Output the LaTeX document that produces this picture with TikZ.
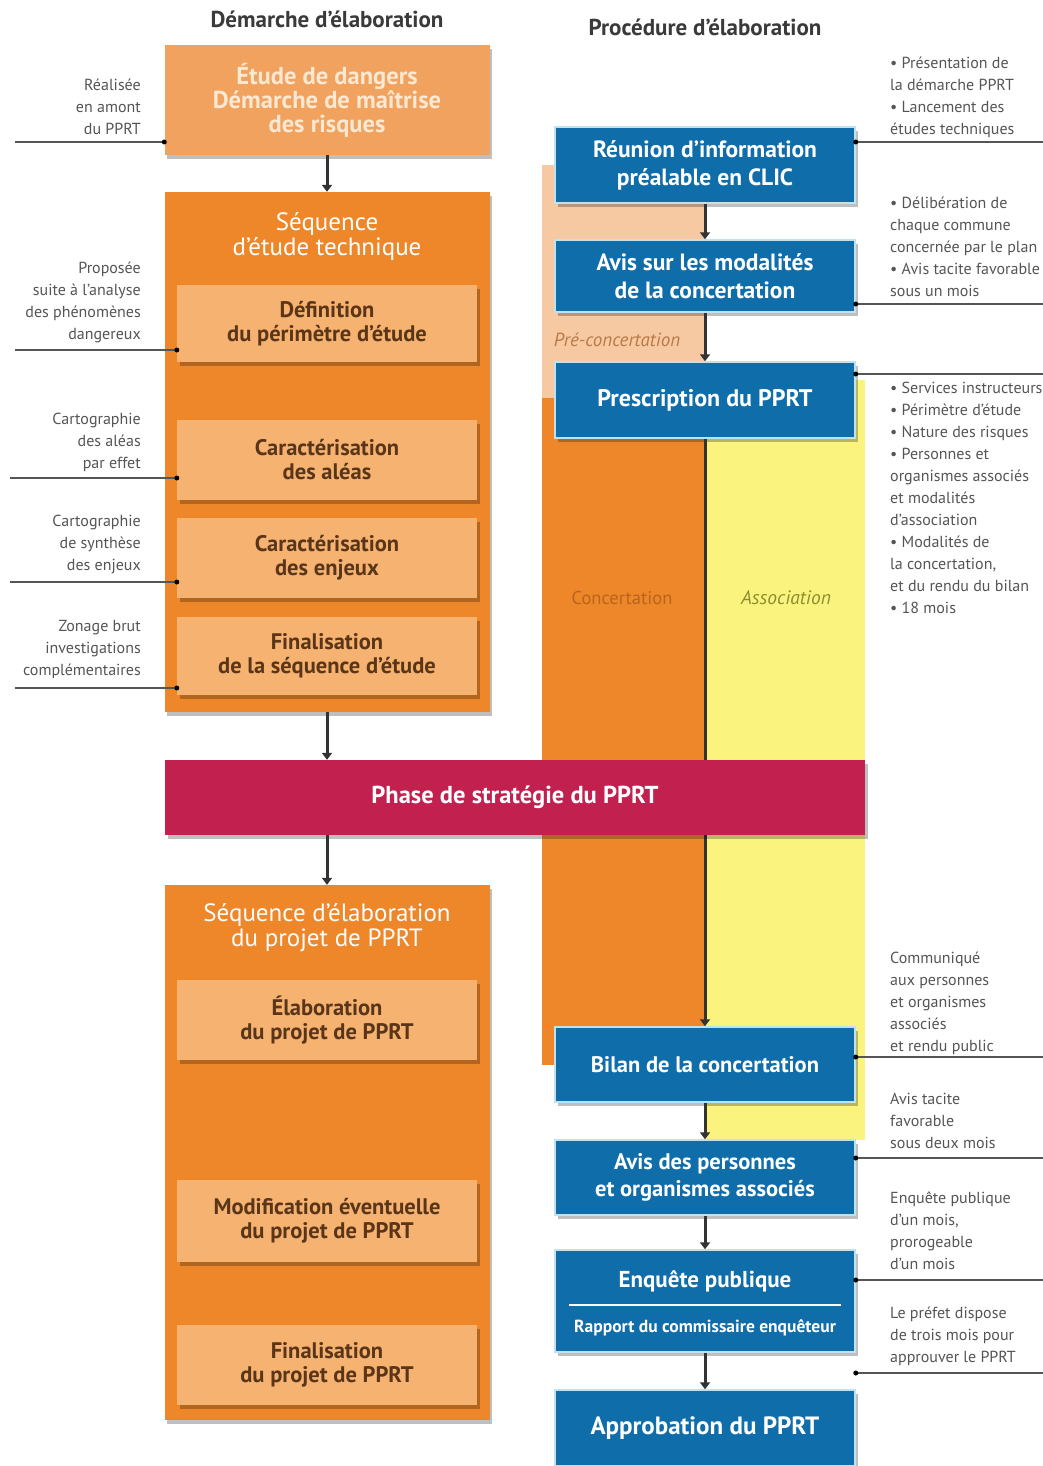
\documentclass[tikz,border=0pt]{standalone}
\usepackage{fontspec}
\setmainfont{PT Sans}
\usetikzlibrary{shadows,arrows.meta}
\definecolor{lor}{HTML}{F0A25E}
\definecolor{lortwo}{HTML}{F5B271}
\definecolor{ora}{HTML}{EE8729}
\definecolor{crim}{HTML}{C2204F}
\definecolor{blu}{HTML}{0F6DAA}
\definecolor{bbord}{HTML}{BFE2F0}
\definecolor{pale}{HTML}{F7C9A2}
\definecolor{yel}{HTML}{FAF37D}
\definecolor{arrc}{HTML}{333333}
\definecolor{notec}{HTML}{555555}
\definecolor{brn}{HTML}{5A3518}
\definecolor{cream}{HTML}{FDE8D2}
\definecolor{titlec}{HTML}{3A3A3A}
\definecolor{concc}{HTML}{B8641C}
\definecolor{assoc}{HTML}{8E8E30}
\definecolor{prec}{HTML}{B87A48}
\begin{document}
\begin{tikzpicture}[x=1pt,y=-1pt,
  shad/.style={drop shadow={shadow xshift=2.5pt,shadow yshift=-4pt,opacity=0.25,fill=black}},
  topbox/.style={fill=lor,minimum width=325pt,inner sep=0pt,text=cream,align=center,
    font=\bfseries\fontsize{24.5}{24}\selectfont,shad},
  bigbox/.style={fill=ora,minimum width=325pt,inner sep=0pt,shad},
  bigtitle/.style={text=white,align=center,font=\fontsize{25}{25}\selectfont,inner sep=0pt},
  inbox/.style={fill=lortwo,minimum width=300pt,inner sep=0pt,text=brn,align=center,
    font=\bfseries\fontsize{22.5}{24}\selectfont,shad},
  bluebox/.style={fill=blu,draw=bbord,line width=1.5pt,minimum width=300pt,inner sep=0pt,
    text=white,align=center,font=\bfseries\fontsize{23.5}{28}\selectfont,shad},
  arr/.style={draw=arrc,line width=3pt,-{Triangle[width=10pt,length=7pt]}},
  note/.style={text=notec,font=\fontsize{16}{22}\selectfont,inner sep=0pt},
  anl/.style={draw=notec,line width=1.2pt},
  coltitle/.style={text=titlec,font=\bfseries\fontsize{23}{26}\selectfont,inner sep=0pt}
]
\useasboundingbox (0,0) rectangle (1043,1466);
\fill[white] (0,0) rectangle (1043,1466);

% column titles
\node[coltitle] (t1) at (327,19) {Démarche d'élaboration};
\node[coltitle] (t2) at (705,27) {Procédure d'élaboration};

% right background strips
\fill[pale] (542,165) rectangle (705,400);
\fill[ora] (542,398) rectangle (705,1065);
\fill[yel] (705,380) rectangle (865,1140);
\node[text=prec,font=\itshape\fontsize{19}{22}\selectfont,inner sep=0pt] (pre) at (617,340) {Pré-concertation};
\node[text=concc,font=\fontsize{18.5}{22}\selectfont,inner sep=0pt] (conc) at (622,598) {Concertation};
\node[text=assoc,font=\itshape\fontsize{19.5}{22}\selectfont,inner sep=0pt] (asso) at (786,598) {Association};

% left column
\node[topbox,minimum height=110pt] (b1) at (327,100) {Étude de dangers\\Démarche de maîtrise\\des risques};
\node[bigbox,minimum height=520pt] (seq1) at (327,452) {};
\node[bigtitle] (seq1t) at (327,236) {Séquence\\d'étude technique};
\node[inbox,minimum height=77pt] (d1) at (327,323.5) {Définition\\du périmètre d'étude};
\node[inbox,minimum height=80pt] (d2) at (327,460) {Caractérisation\\des aléas};
\node[inbox,minimum height=80pt] (d3) at (327,558) {Caractérisation\\des enjeux};
\node[inbox,minimum height=78pt] (d4) at (327,656) {Finalisation\\de la séquence d'étude};

\node[bigbox,minimum height=535pt] (seq2) at (327,1152.5) {};
\node[bigtitle] (seq2t) at (327,928) {Séquence d'élaboration\\du projet de PPRT};
\node[inbox,minimum height=80pt] (e1) at (327,1020) {Élaboration\\du projet de PPRT};
\node[inbox,minimum height=82pt] (e2) at (327,1221) {Modification éventuelle\\du projet de PPRT};
\node[inbox,minimum height=80pt] (e3) at (327,1365) {Finalisation\\du projet de PPRT};

% right column boxes
\node[bluebox,minimum height=76pt] (r1) at (705,165) {Réunion d'information\\préalable en CLIC};
\node[bluebox,minimum height=72pt] (r2) at (705,276) {Avis sur les modalités\\de la concertation};
\node[bluebox,minimum height=76pt,font=\bfseries\fontsize{24}{28}\selectfont] (r3) at (705,400) {Prescription du PPRT};
\node[bluebox,minimum height=75pt,font=\bfseries\fontsize{22.5}{27}\selectfont] (r4) at (705,1064.5) {Bilan de la concertation};
\node[bluebox,minimum height=75pt,font=\bfseries\fontsize{22.5}{27}\selectfont] (r5) at (705,1177.5) {Avis des personnes\\et organismes associés};
\node[bluebox,minimum height=102pt] (r6) at (705,1301) {};
\node[text=white,font=\bfseries\fontsize{23}{26}\selectfont,inner sep=0pt] (r6a) at (705,1281) {Enquête publique};
\node[text=white,font=\bfseries\fontsize{17.5}{20}\selectfont,inner sep=0pt] (r6b) at (705,1328) {Rapport du commissaire enquêteur};
\draw[white,line width=1.5pt] ([xshift=15pt,yshift=-4pt]r6.west) -- ([xshift=-15pt,yshift=-4pt]r6.east);
\node[bluebox,minimum height=76pt,font=\bfseries\fontsize{25}{28}\selectfont] (r7) at (705,1428) {Approbation du PPRT};

% long vertical line behind the strategy bar
\draw[arr] (r3.south) -- (r4.north);

% strategy bar
\node[fill=crim,minimum width=700pt,minimum height=75pt,inner sep=0pt,text=white,
  font=\bfseries\fontsize{24.5}{28}\selectfont,shad] (strat) at (515,797.5) {Phase de stratégie du PPRT};

% arrows
\draw[arr] (b1.south) -- (seq1.north);
\draw[arr] (seq1.south) -- (seq1.south |- strat.north);
\draw[arr] (seq1.south |- strat.south) -- (seq2.north);
\draw[arr] (r1.south) -- (r2.north);
\draw[arr] (r2.south) -- (r3.north);
\draw[arr] (r4.south) -- (r5.north);
\draw[arr] (r5.south) -- (r6.north);
\draw[arr] (r6.south) -- (r7.north);

% left annotation lines
\coordinate (la1) at (15,142);
\coordinate (la2) at (15,350);
\coordinate (la3) at (10,478);
\coordinate (la4) at (10,582);
\coordinate (la5) at (15,688);
\draw[anl] (la1) -- (la1 -| b1.west);
\fill (la1 -| b1.west) circle (2.5);
\draw[anl] (la2) -- (la2 -| d1.west);
\fill (la2 -| d1.west) circle (2.5);
\draw[anl] (la3) -- (la3 -| d2.west);
\fill (la3 -| d2.west) circle (2.5);
\draw[anl] (la4) -- (la4 -| d3.west);
\fill (la4 -| d3.west) circle (2.5);
\draw[anl] (la5) -- (la5 -| d4.west);
\fill (la5 -| d4.west) circle (2.5);

% right annotation lines
\coordinate (ra1) at (1043,142);
\coordinate (ra2) at (1043,304);
\coordinate (ra3) at (1043,374);
\coordinate (ra4) at (1043,1057);
\coordinate (ra5) at (1043,1158);
\coordinate (ra6) at (1043,1280);
\coordinate (ra7) at (1043,1373);
\foreach \c/\b in {ra1/r1,ra2/r2,ra3/r3,ra4/r4,ra5/r5,ra6/r6,ra7/r6}{
  \draw[anl] (\c -| \b.east) -- (\c);
  \fill (\c -| \b.east) circle (2.5);
}

% left notes
\node[note,anchor=north east,align=right] (n1) at (141,79) {Réalisée\\en amont\\du PPRT};
\node[note,anchor=north east,align=right] (n2) at (141,262) {Proposée\\suite à l'analyse\\des phénomènes\\dangereux};
\node[note,anchor=north east,align=right] (n3) at (141,413) {Cartographie\\des aléas\\par effet};
\node[note,anchor=north east,align=right] (n4) at (141,515) {Cartographie\\de synthèse\\des enjeux};
\node[note,anchor=north east,align=right] (n5) at (141,620) {Zonage brut\\investigations\\complémentaires};

% right notes
\node[note,anchor=north west,align=left] (m1) at (890,57) {• Présentation de\\la démarche PPRT\\• Lancement des\\études techniques};
\node[note,anchor=north west,align=left] (m2) at (890,197) {• Délibération de\\chaque commune\\concernée par le plan\\• Avis tacite favorable\\sous un mois};
\node[note,anchor=north west,align=left] (m3) at (890,382) {• Services instructeurs\\• Périmètre d'étude\\• Nature des risques\\• Personnes et\\organismes associés\\et modalités\\d'association\\• Modalités de\\la concertation,\\et du rendu du bilan\\• 18 mois};
\node[note,anchor=north west,align=left] (m4) at (890,952) {Communiqué\\aux personnes\\et organismes\\associés\\et rendu public};
\node[note,anchor=north west,align=left] (m5) at (890,1093) {Avis tacite\\favorable\\sous deux mois};
\node[note,anchor=north west,align=left] (m6) at (890,1192) {Enquête publique\\d'un mois,\\prorogeable\\d'un mois};
\node[note,anchor=north west,align=left] (m7) at (890,1307) {Le préfet dispose\\de trois mois pour\\approuver le PPRT};
\end{tikzpicture}
\end{document}
